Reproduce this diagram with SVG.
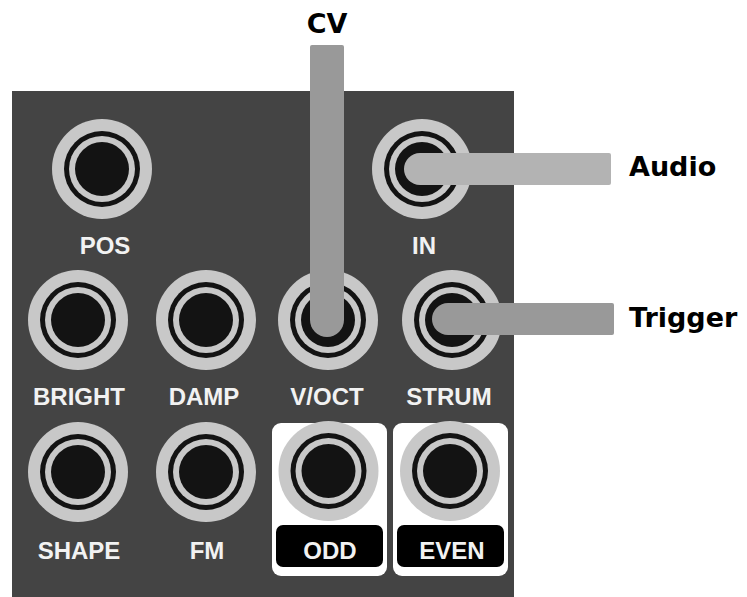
<svg xmlns="http://www.w3.org/2000/svg" width="747" height="597" viewBox="0 0 747 597">
<style>
.ring{fill:#c8c8c8}
.b1{fill:#131313}
.lbl{font-family:"Liberation Sans",Arial,sans-serif;font-weight:bold;font-size:24px;fill:#f2f2f2;text-anchor:middle}
.big{font-family:"DejaVu Sans",sans-serif;font-weight:bold;font-size:27px;fill:#000}
</style>
<defs>
<g id="jack">
<circle class="ring" r="50"/>
<circle class="b1" r="38"/>
<circle class="ring" r="33"/>
<circle class="b1" r="27"/>
</g>
</defs>
<rect width="747" height="597" fill="#fff"/>
<rect id="panel" x="12" y="91" width="502" height="506" fill="#444444"/>
<g id="pos"><use href="#jack" x="102" y="169"/><text class="lbl" x="105" y="254">POS</text></g>
<g id="in"><use href="#jack" x="422" y="169"/><text class="lbl" x="424" y="254">IN</text></g>
<g id="bright"><use href="#jack" x="78" y="320"/><text class="lbl" x="79" y="405">BRIGHT</text></g>
<g id="damp"><use href="#jack" x="206" y="320"/><text class="lbl" x="204" y="405">DAMP</text></g>
<g id="voct"><use href="#jack" x="328" y="320"/><text class="lbl" x="327" y="405">V/OCT</text></g>
<g id="strum"><use href="#jack" x="452" y="320"/><text class="lbl" x="449" y="405">STRUM</text></g>
<g id="shape"><use href="#jack" x="78" y="472"/><text class="lbl" x="79" y="559">SHAPE</text></g>
<g id="fm"><use href="#jack" x="206" y="472"/><text class="lbl" x="207" y="559">FM</text></g>
<g id="odd">
<rect x="272" y="423" width="115" height="153" rx="9" fill="#fff"/>
<use href="#jack" x="328.5" y="471"/>
<rect x="276" y="525" width="107" height="42" rx="7" fill="#000"/>
<text class="lbl" x="330" y="559">ODD</text>
</g>
<g id="even">
<rect x="393" y="423" width="115" height="153" rx="9" fill="#fff"/>
<use href="#jack" x="450" y="471"/>
<rect x="397" y="525" width="107" height="42" rx="7" fill="#000"/>
<text class="lbl" x="452" y="559">EVEN</text>
</g>
<g id="connectors">
<path d="M310,47 Q310,45 312,45 L342,45 Q344,45 344,47 L344,320 A17,17 0 0 1 310,320 Z" fill="#999999"/>
<path d="M420,153 L609,153 Q611,153 611,155 L611,183 Q611,185 609,185 L420,185 A16,16 0 0 1 420,153 Z" fill="#b3b3b3"/>
<path d="M448,303 L612,303 Q614,303 614,305 L614,333 Q614,335 612,335 L448,335 A16,16 0 0 1 448,303 Z" fill="#999999"/>
</g>
<g id="labels">
<text class="big" x="327" y="33" text-anchor="middle">CV</text>
<text class="big" x="629" y="176">Audio</text>
<text class="big" x="629" y="327">Trigger</text>
</g>
</svg>
